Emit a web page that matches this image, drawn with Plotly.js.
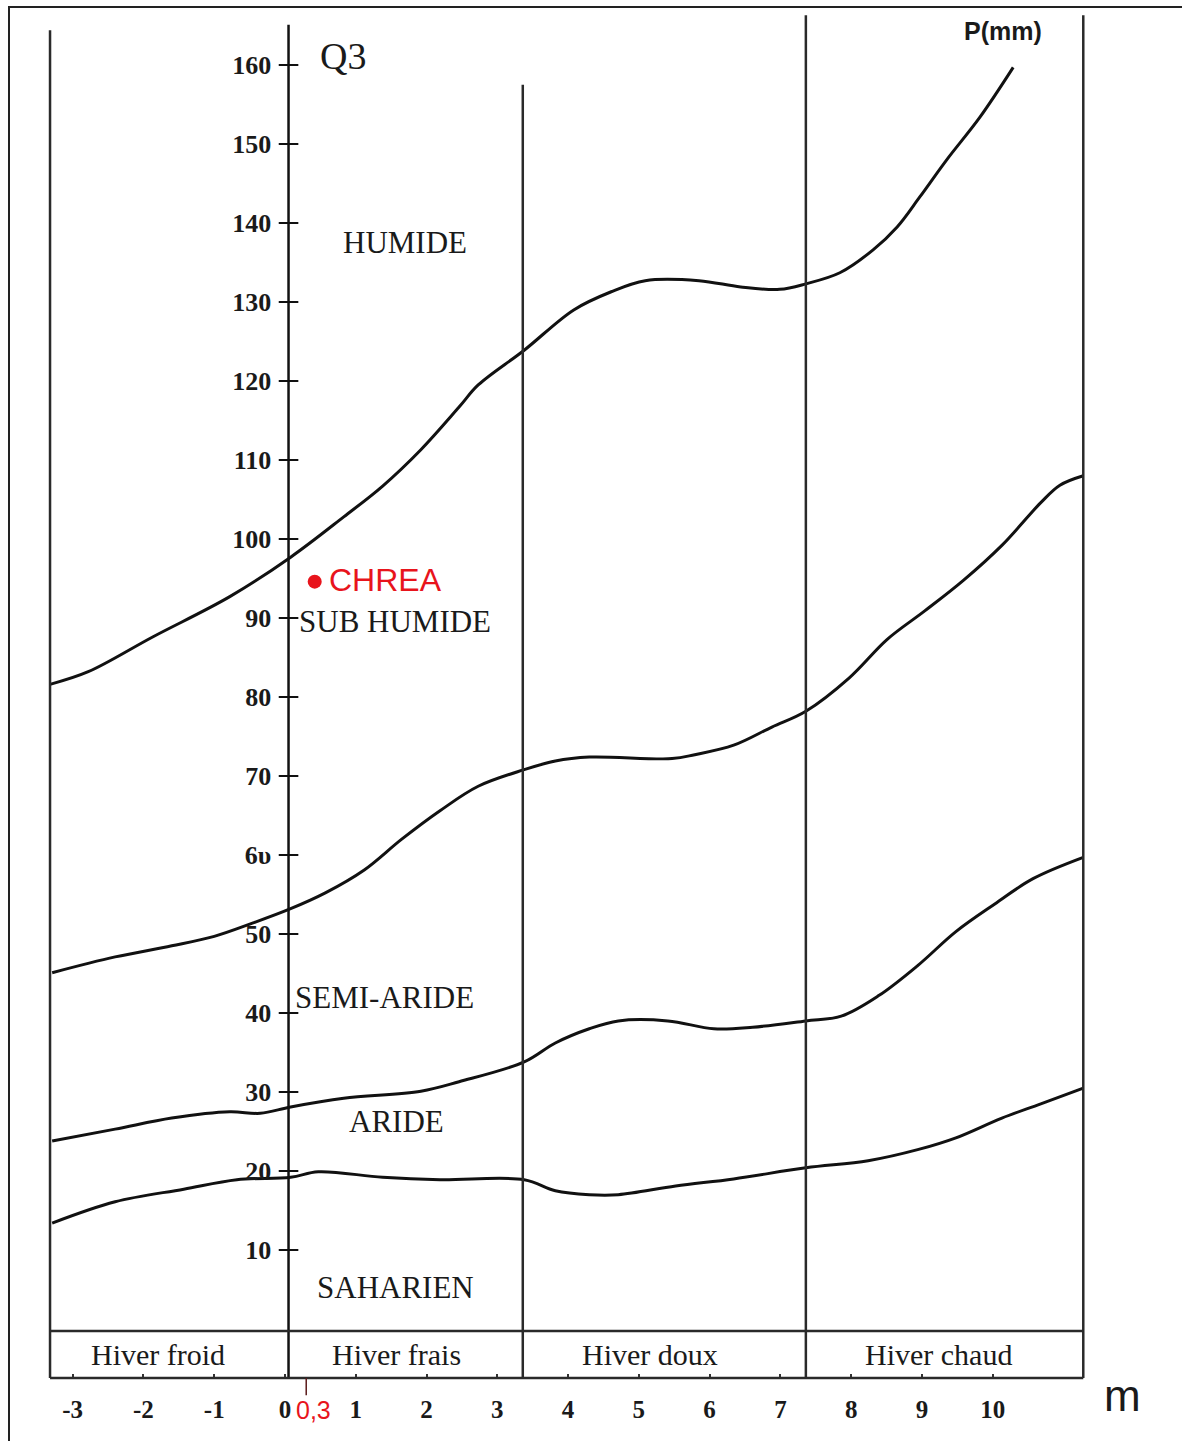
<!DOCTYPE html>
<html>
<head>
<meta charset="utf-8">
<script src="https://cdn.plot.ly/plotly-3.0.1.min.js"></script>
<style>html,body{margin:0;padding:0;background:#fff;}#chart{width:1182px;height:1441px;}</style>
</head>
<body>
<div id="chart"></div>
<script>
// ---- data (x = m in °C, y = Q3) ----
const mTicks = [-3, -2, -1, 0, 1, 2, 3, 4, 5, 6, 7, 8, 9, 10];
const q3Ticks = [10, 20, 30, 40, 50, 60, 70, 80, 90, 100, 110, 120, 130, 140, 150, 160];
const q3TickText = ['10', '20', '30', '40', '50', '6υ', '70', '80', '90', '100', '110', '120', '130', '140', '150', '160'];

// limit HUMIDE / SUB HUMIDE
const humM = [-3.32, -2.78, -1.87, -0.78, 0.08, 0.83, 1.38, 1.92, 2.46, 2.73, 3.38, 4.08, 4.61, 5.09, 5.85, 6.44, 6.99, 7.36, 7.84, 8.31, 8.65, 8.97, 9.35, 9.82, 10.29];
const humQ = [81.6, 83.2, 87.6, 92.7, 97.7, 102.8, 106.7, 111.3, 116.7, 119.5, 123.9, 129.0, 131.3, 132.7, 132.7, 131.9, 131.6, 132.3, 133.7, 136.6, 139.5, 143.3, 148.0, 153.4, 159.7];
// limit SUB HUMIDE / SEMI-ARIDE
const subM = [-3.29, -2.40, -1.60, -1.00, -0.45, 0.08, 0.57, 1.12, 1.65, 2.19, 2.73, 3.38, 3.82, 4.30, 5.47, 5.79, 6.34, 6.88, 7.36, 7.97, 8.51, 9.04, 9.59, 10.13, 10.68, 10.95, 11.28];
const subQ = [45.1, 47.1, 48.5, 49.7, 51.4, 53.2, 55.2, 58.1, 62.0, 65.6, 68.7, 70.8, 71.9, 72.4, 72.2, 72.7, 73.9, 76.2, 78.2, 82.4, 87.3, 90.9, 94.8, 99.2, 104.6, 106.8, 108.0];
// limit SEMI-ARIDE / ARIDE
const semM = [-3.29, -2.40, -1.60, -0.78, -0.35, 0.08, 0.83, 1.92, 2.46, 3.38, 3.82, 4.30, 4.71, 5.41, 6.06, 6.61, 7.36, 7.86, 8.39, 8.94, 9.48, 10.03, 10.57, 11.28];
const semQ = [23.8, 25.3, 26.7, 27.5, 27.3, 28.1, 29.2, 30.1, 31.3, 33.8, 36.2, 38.0, 39.0, 39.0, 38.0, 38.2, 39.0, 39.6, 42.2, 46.0, 50.3, 53.8, 57.0, 59.7];
// limit ARIDE / SAHARIEN
const ariM = [-3.29, -2.40, -1.43, -0.68, 0.08, 0.47, 1.38, 2.19, 3.38, 3.82, 4.30, 4.71, 5.52, 6.34, 7.36, 8.24, 8.94, 9.48, 10.13, 10.68, 11.28];
const ariQ = [13.4, 16.1, 17.7, 18.9, 19.2, 19.9, 19.2, 18.9, 18.9, 17.5, 17.0, 17.0, 18.1, 19.0, 20.4, 21.3, 22.7, 24.2, 26.7, 28.5, 30.5];

// zone boundaries (m) and how high each vertical line reaches (Q3)
const zoneEdgesM = [-3.32, 3.36, 7.36, 11.28];
const zoneEdgesTopQ = [164.4, 157.5, 166.3, 166.3];
const q3AxisM = 0.05;
const q3AxisTopQ = 165.1;
const winterLabels = ['Hiver froid', 'Hiver frais', 'Hiver doux', 'Hiver chaud'];
const winterLabelM = [-1.79, 1.57, 5.16, 9.23];
const zoneNames = ['HUMIDE', 'SUB HUMIDE', 'SEMI-ARIDE', 'ARIDE', 'SAHARIEN'];
const zoneNameM = [1.70, 1.55, 1.40, 1.58, 1.56];
const zoneNameQ = [137.5, 89.6, 41.9, 26.3, 5.3];
const stationName = ['CHREA'];
const stationM = [0.42];
const stationQ = [94.6];
const stationMark = 0.3;

// ---- drawing ----
const W = 1182, H = 1441;
const xRange = [-4.027, 12.675];
const yRange = [-14.18, 168.23];
const tableTopQ = -0.25, tableBotQ = -6.2;
const serif = 'Liberation Serif, Times New Roman, serif';
const sans = 'Liberation Sans, Arial, sans-serif';
const curveLine = {color: '#111', width: 3, shape: 'spline', smoothing: 1};

const traces = [
  {x: humM, y: humQ, mode: 'lines', line: curveLine, hoverinfo: 'skip'},
  {x: subM, y: subQ, mode: 'lines', line: curveLine, hoverinfo: 'skip'},
  {x: semM, y: semQ, mode: 'lines', line: curveLine, hoverinfo: 'skip'},
  {x: ariM, y: ariQ, mode: 'lines', line: curveLine, hoverinfo: 'skip'},
  // cross ticks on Q3 axis
  {x: q3Ticks.map(() => q3AxisM), y: q3Ticks, mode: 'markers', hoverinfo: 'skip',
   marker: {symbol: 'line-ew', size: 14, line: {color: '#111', width: 2}}},
  // station
  {x: stationM, y: stationQ, mode: 'markers', hoverinfo: 'skip',
   marker: {color: '#e8141c', size: 14}}
];

const shapes = [];
zoneEdgesM.forEach((m, i) => {
  shapes.push({type: 'line', xref: 'x', yref: 'y', x0: m, x1: m, y0: tableBotQ, y1: zoneEdgesTopQ[i],
    line: {color: '#2a2a2a', width: 2.5}});
});
shapes.push({type: 'line', xref: 'x', yref: 'y', x0: q3AxisM, x1: q3AxisM, y0: tableBotQ, y1: q3AxisTopQ,
  line: {color: '#111', width: 2.5}});
[tableTopQ, tableBotQ].forEach(q => {
  shapes.push({type: 'line', xref: 'x', yref: 'y', x0: zoneEdgesM[0], x1: zoneEdgesM[zoneEdgesM.length - 1], y0: q, y1: q,
    line: {color: '#2a2a2a', width: 2.5}});
});
// mark of the station m value under the axis
shapes.push({type: 'line', xref: 'x', yref: 'y', x0: stationMark, x1: stationMark, y0: tableBotQ, y1: -8.4,
  line: {color: '#5a1a1a', width: 1.5}});
// outer frame
shapes.push({type: 'rect', xref: 'paper', yref: 'paper', x0: 9 / W, x1: 1.02, y0: -0.02, y1: 1 - 7 / H,
  line: {color: '#222', width: 2}, fillcolor: 'rgba(0,0,0,0)'});

const annotations = [];
zoneNames.forEach((t, i) => annotations.push({x: zoneNameM[i], y: zoneNameQ[i], xref: 'x', yref: 'y', text: t,
  showarrow: false, font: {family: serif, size: 31, color: '#1a1a1a'}}));
winterLabels.forEach((t, i) => annotations.push({x: winterLabelM[i], y: (tableTopQ + tableBotQ) / 2, xref: 'x', yref: 'y', text: t,
  showarrow: false, font: {family: serif, size: 30, color: '#1a1a1a'}}));
stationName.forEach((t, i) => annotations.push({x: stationM[i], y: stationQ[i], xref: 'x', yref: 'y', text: t,
  showarrow: false, xanchor: 'left', xshift: 12, yshift: 2, font: {family: sans, size: 32, color: '#e8141c'}}));
annotations.push({x: stationMark, y: -10.3, xref: 'x', yref: 'y', text: String(stationMark).replace('.', ','), showarrow: false,
  xanchor: 'left', xshift: -12, font: {family: sans, size: 25, color: '#e8141c'}});
annotations.push({x: 0.47, y: 161.2, xref: 'x', yref: 'y', text: 'Q3', showarrow: false, xanchor: 'left',
  font: {family: serif, size: 38, color: '#1a1a1a'}});
annotations.push({x: 10.15, y: 164.3, xref: 'x', yref: 'y', text: '<b>P(mm)</b>', showarrow: false, xanchor: 'center',
  font: {family: sans, size: 25, color: '#1a1a1a'}});
annotations.push({x: 11.84, y: -8.4, xref: 'x', yref: 'y', text: 'm', showarrow: false,
  font: {family: sans, size: 44, color: '#1a1a1a'}});

const layout = {
  width: W, height: H,
  margin: {l: 0, r: 0, t: 0, b: 0},
  paper_bgcolor: '#fff', plot_bgcolor: '#fff',
  showlegend: false,
  xaxis: {range: xRange, domain: [0, 1], anchor: 'free', position: (H - 1378) / H, side: 'bottom',
    showgrid: false, zeroline: false, showline: false,
    tickmode: 'array', tickvals: mTicks, ticktext: mTicks.map(String),
    ticks: 'inside', ticklen: 4, tickwidth: 2, tickcolor: '#333', ticklabelstandoff: 14,
    tickfont: {family: serif, size: 25, color: '#1a1a1a', weight: 'bold'}, fixedrange: true},
  yaxis: {range: yRange, domain: [0, 1], anchor: 'free', position: (q3AxisM - xRange[0]) / (xRange[1] - xRange[0]), side: 'left',
    showgrid: false, zeroline: false, showline: false,
    tickmode: 'array', tickvals: q3Ticks, ticktext: q3TickText,
    ticks: 'outside', ticklen: 7, tickwidth: 2, tickcolor: '#111', ticklabelstandoff: 5,
    tickfont: {family: serif, size: 26, color: '#1a1a1a', weight: 'bold'}, fixedrange: true},
  shapes: shapes,
  annotations: annotations
};

Plotly.newPlot('chart', traces, layout, {displayModeBar: false, staticPlot: true});
</script>
</body>
</html>
